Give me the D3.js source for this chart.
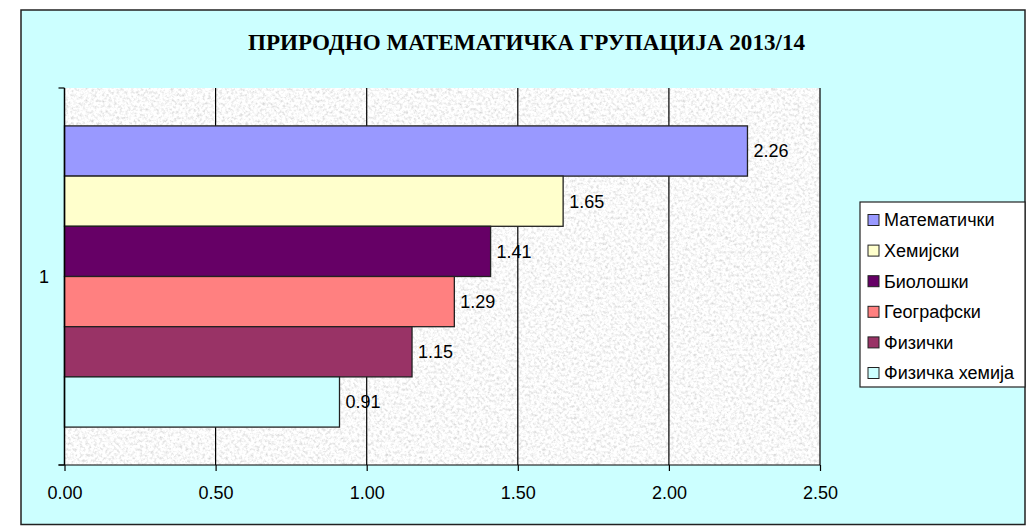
<!DOCTYPE html>
<html>
<head>
<meta charset="utf-8">
<script src="https://cdn.jsdelivr.net/npm/d3@7"></script>
<style>
  body { margin: 0; background: #fff; }
  text { font-family: "Liberation Sans", Arial, sans-serif; }
</style>
</head>
<body>
<svg></svg>
<script>
const svgWidth = 1033;
const svgHeight = 526;

// data
const categories = ["1"];
const seriesNames = ["Математички", "Хемијски", "Биолошки", "Географски", "Физички", "Физичка хемија"];
const seriesValues = [2.26, 1.65, 1.41, 1.29, 1.15, 0.91];
const seriesColors = ["#9999ff", "#ffffcc", "#660066", "#ff8080", "#993366", "#ccffff"];
const xTicks = [0, 0.5, 1, 1.5, 2, 2.5];
const title = "ПРИРОДНО МАТЕМАТИЧКА ГРУПАЦИЈА 2013/14";

const plot = { left: 64.5, right: 820, top: 88, bottom: 465 };

const svg = d3.select("svg")
  .attr("width", svgWidth)
  .attr("height", svgHeight);

// granite texture for the plot area
const defs = svg.append("defs");
const filter = defs.append("filter")
  .attr("id", "granite")
  .attr("x", 0).attr("y", 0).attr("width", 1).attr("height", 1);
filter.append("feTurbulence")
  .attr("type", "fractalNoise")
  .attr("baseFrequency", 0.35)
  .attr("numOctaves", 4)
  .attr("seed", 7);
filter.append("feColorMatrix")
  .attr("type", "matrix")
  .attr("values", "0.7 0 0 0 0.6  0.7 0 0 0 0.6  0.7 0 0 0 0.6  0 0 0 0 1");

// chart area
svg.append("rect")
  .attr("x", 21)
  .attr("y", 10)
  .attr("width", 1004)
  .attr("height", 514.5)
  .attr("fill", "#ccffff")
  .attr("stroke", "#222")
  .attr("stroke-width", 1.5);

svg.append("text")
  .attr("x", 526.5)
  .attr("y", 50)
  .attr("text-anchor", "middle")
  .attr("textLength", 557)
  .attr("lengthAdjust", "spacingAndGlyphs")
  .style("font-family", "'Liberation Serif', 'Times New Roman', serif")
  .style("font-weight", "bold")
  .style("font-size", "23px")
  .text(title);

const x = d3.scaleLinear()
  .domain([0, 2.5])
  .range([plot.left, plot.right]);

const yCat = d3.scaleBand()
  .domain(categories)
  .range([plot.top, plot.bottom]);

const ySeries = d3.scaleBand()
  .domain(seriesNames)
  .range([0, yCat.bandwidth()])
  .paddingInner(0)
  .paddingOuter(0.755);

svg.append("rect")
  .attr("x", plot.left)
  .attr("y", plot.top)
  .attr("width", plot.right - plot.left)
  .attr("height", plot.bottom - plot.top)
  .attr("filter", "url(#granite)");

// gridlines
svg.append("g")
  .selectAll("line")
  .data(xTicks.slice(1))
  .enter()
  .append("line")
  .attr("x1", d => x(d))
  .attr("x2", d => x(d))
  .attr("y1", plot.top)
  .attr("y2", plot.bottom)
  .attr("stroke", "#000")
  .attr("stroke-width", 1.2);

// bars
const rows = seriesNames.map((name, i) => ({ name: name, value: seriesValues[i], color: seriesColors[i], cat: categories[0] }));

svg.append("g")
  .selectAll("rect")
  .data(rows)
  .enter()
  .append("rect")
  .attr("x", x(0))
  .attr("y", d => yCat(d.cat) + ySeries(d.name))
  .attr("width", d => x(d.value) - x(0))
  .attr("height", ySeries.bandwidth())
  .attr("fill", d => d.color)
  .attr("stroke", "#222")
  .attr("stroke-width", 1.3);

svg.append("g")
  .selectAll("text")
  .data(rows)
  .enter()
  .append("text")
  .attr("x", d => x(d.value) + 6)
  .attr("y", d => yCat(d.cat) + ySeries(d.name) + ySeries.bandwidth() / 2)
  .attr("dy", "0.35em")
  .style("font-size", "18px")
  .attr("fill", "#000")
  .text(d => d.value.toFixed(2));

// x axis
const xAxis = d3.axisBottom(x)
  .tickValues(xTicks)
  .tickFormat(d3.format(".2f"))
  .tickSize(6)
  .tickSizeOuter(0);

const gx = svg.append("g")
  .attr("transform", "translate(0," + plot.bottom + ")")
  .call(xAxis);
gx.select(".domain").remove();
gx.append("line")
  .attr("x1", plot.left - 6)
  .attr("x2", plot.right)
  .attr("stroke", "#000")
  .attr("stroke-width", 1.2);
gx.selectAll(".tick line").attr("stroke", "#000").attr("stroke-width", 1.2);
gx.selectAll(".tick text")
  .attr("y", 28)
  .attr("dy", "0.35em")
  .style("font-family", "'Liberation Sans', Arial, sans-serif")
  .style("font-size", "18px")
  .attr("fill", "#000");

// category axis
const gy = svg.append("g");
gy.append("line")
  .attr("x1", plot.left)
  .attr("x2", plot.left)
  .attr("y1", plot.top)
  .attr("y2", plot.bottom)
  .attr("stroke", "#000")
  .attr("stroke-width", 1.5);
gy.selectAll("line.cat-tick")
  .data([plot.top, plot.bottom])
  .enter()
  .append("line")
  .attr("class", "cat-tick")
  .attr("x1", plot.left - 6)
  .attr("x2", plot.left)
  .attr("y1", d => d)
  .attr("y2", d => d)
  .attr("stroke", "#000")
  .attr("stroke-width", 1.2);
gy.selectAll("text")
  .data(categories)
  .enter()
  .append("text")
  .attr("x", 44)
  .attr("y", d => yCat(d) + yCat.bandwidth() / 2)
  .attr("dy", "0.35em")
  .attr("text-anchor", "middle")
  .style("font-size", "18px")
  .text(d => d);

// legend
const legend = svg.append("g");
legend.append("rect")
  .attr("x", 860)
  .attr("y", 202)
  .attr("width", 165)
  .attr("height", 185)
  .attr("fill", "#fff")
  .attr("stroke", "#222")
  .attr("stroke-width", 1.2);

const legendY = d3.scalePoint()
  .domain(seriesNames)
  .range([220, 373]);

const items = legend.selectAll("g.item")
  .data(rows)
  .enter()
  .append("g")
  .attr("class", "item")
  .attr("transform", d => "translate(0," + legendY(d.name) + ")");
items.append("rect")
  .attr("x", 868)
  .attr("y", -5.5)
  .attr("width", 11)
  .attr("height", 11)
  .attr("fill", d => d.color)
  .attr("stroke", "#222")
  .attr("stroke-width", 1);
items.append("text")
  .attr("x", 884)
  .attr("dy", "0.35em")
  .style("font-size", "18px")
  .text(d => d.name);
</script>
</body>
</html>
